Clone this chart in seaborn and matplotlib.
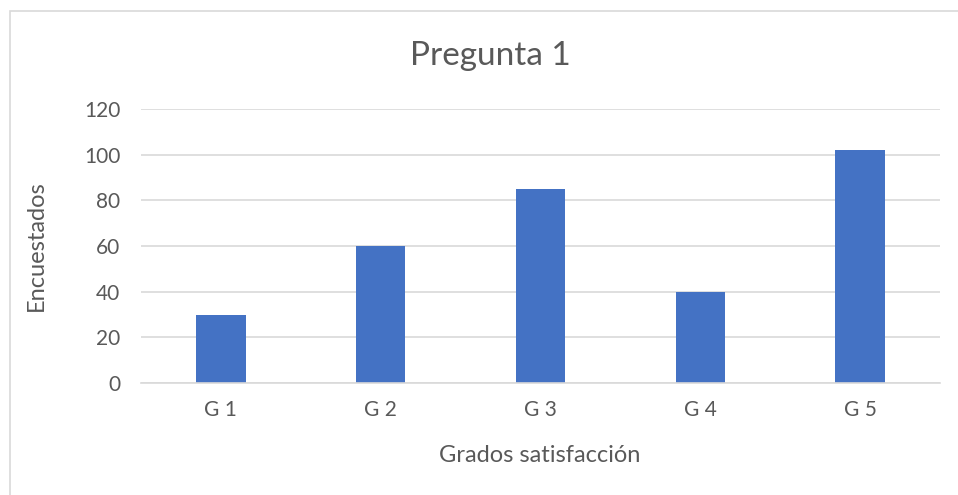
import matplotlib
matplotlib.use("Agg")
import matplotlib.pyplot as plt
import seaborn as sns
import pandas as pd
from matplotlib.patches import Rectangle

categories = ["G 1", "G 2", "G 3", "G 4", "G 5"]
values = [30, 60, 85, 40, 102]
yticks = [0, 20, 40, 60, 80, 100, 120]

sns.set_theme(style="white")
plt.rcParams["font.family"] = ["Lato", "DejaVu Sans"]

TXT = "#595959"
GRID = "#D9D9D9"

fig = plt.figure(figsize=(9.58, 4.95), dpi=100)
ax = fig.add_axes([141/958, 1-383/495, (940-141)/958, (383-109)/495])

df = pd.DataFrame({"cat": categories, "val": values})
sns.barplot(data=df, x="cat", y="val", color="#4472C4", width=0.31,
            saturation=1, ax=ax, edgecolor="none")

ax.set_xlim(-0.5, 4.5)
ax.set_ylim(0, 120)
ax.set_yticks(yticks)
ax.set_yticklabels([str(t) for t in yticks])
ax.yaxis.grid(True, color=GRID, linewidth=1.2)
ax.set_axisbelow(True)
for s in ["top", "right", "left"]:
    ax.spines[s].set_visible(False)
ax.spines["bottom"].set_color(GRID)
ax.spines["bottom"].set_linewidth(1.2)
ax.tick_params(axis="both", length=0, labelsize=15, colors=TXT)
ax.tick_params(axis="y", pad=15)
ax.tick_params(axis="x", pad=12)
ax.set_xlabel("Grados satisfacción", fontsize=17, color=TXT)
ax.set_ylabel("Encuestados", fontsize=17, color=TXT)
ax.xaxis.set_label_coords((540-141)/799, (383-455)/274)
ax.xaxis.label.set_va("center")
ax.yaxis.set_label_coords((36-141)/799, 0.5)
ax.yaxis.label.set_va("center")

fig.text(490/958, 1-65/495, "Pregunta 1", fontsize=24, color=TXT,
         ha="center", va="baseline")

fig.patches.append(Rectangle((9.5/958, -0.1), 2, 1.1 - 10.5/495,
                             transform=fig.transFigure, fill=False,
                             edgecolor=GRID, linewidth=1.2))

fig.savefig("out.png", dpi=100)
